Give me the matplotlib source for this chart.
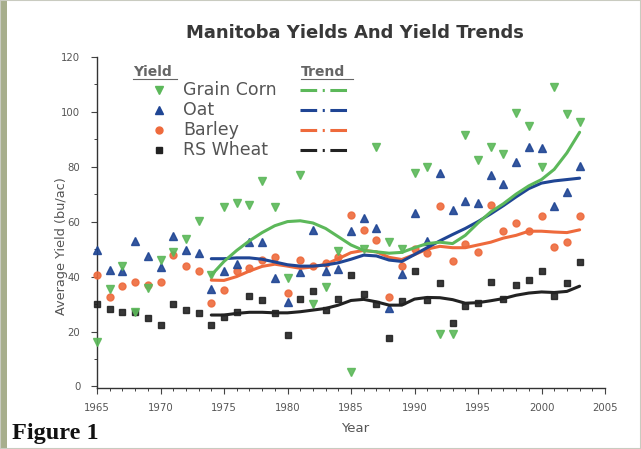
import matplotlib
matplotlib.use("Agg")
import matplotlib.pyplot as plt
from matplotlib.lines import Line2D
from matplotlib.patches import Rectangle
import numpy as np

plt.rcParams["font.family"] = ["DejaVu Sans"]
plt.rcParams["lines.scale_dashes"] = False

# ── data ──────────────────────────────────────────────────────────────────
years = np.arange(1965, 2004)
corn = [16.3, 35.5, 44.0, 27.0, 36.0, 46.0, 49.0, 53.6, 60.3, 40.5,
        65.4, 66.8, 66.2, 74.8, 65.4, 39.5, 76.9, 30.0, 36.2, 49.3,
        5.4, 50.0, 87.2, 52.7, 50.0, 77.7, 80.0, 19.0, 19.0, 91.5,
        82.4, 87.0, 84.5, 99.4, 94.7, 80.0, 108.8, 99.0, 96.3]
oat = [49.6, 42.4, 42.0, 53.0, 47.6, 43.5, 54.6, 49.6, 48.4, 35.5,
       42.1, 44.5, 52.7, 52.7, 39.3, 30.7, 41.8, 57.0, 42.0, 42.8,
       56.5, 61.2, 57.5, 28.6, 41.0, 63.2, 53.0, 77.8, 64.1, 67.5,
       66.6, 76.9, 73.5, 81.8, 87.2, 86.6, 65.8, 70.6, 80.2]
barley = [40.5, 32.7, 36.5, 38.1, 37.0, 38.1, 48.0, 43.9, 41.9, 30.2,
          35.2, 42.0, 43.0, 46.0, 47.0, 34.0, 46.0, 44.0, 45.0, 47.0,
          62.4, 56.8, 53.3, 32.5, 44.0, 50.0, 48.4, 65.8, 45.7, 52.0,
          49.0, 66.2, 56.5, 59.6, 56.5, 62.0, 50.8, 52.7, 62.0]
wheat = [30.0, 28.2, 27.2, 27.2, 25.0, 22.4, 30.0, 27.8, 26.6, 22.2,
         25.4, 27.2, 33.0, 31.5, 26.7, 18.7, 31.7, 34.7, 28.0, 31.7,
         40.5, 33.8, 30.0, 17.5, 31.0, 42.1, 31.5, 37.5, 23.0, 29.3,
         30.5, 38.1, 32.0, 36.9, 38.8, 42.1, 32.8, 37.8, 45.4]

trend_years = np.arange(1974, 2004)
corn_trend = [40.5, 45.5, 49.5, 53.0, 56.0, 58.5, 60.0, 60.3, 59.5, 57.5,
              54.5, 51.5, 49.5, 49.0, 48.5, 48.8, 50.5, 52.0, 52.5, 52.0,
              55.0, 59.5, 63.5, 66.5, 70.0, 73.0, 75.3, 79.0, 85.0, 92.5]
oat_trend = [46.5, 46.5, 46.8, 46.8, 46.3, 45.3, 44.3, 43.8, 43.8, 44.2,
             45.0, 46.3, 47.8, 47.5, 46.0, 45.5, 48.0, 50.5, 53.0, 55.3,
             57.5, 60.0, 62.8, 65.8, 69.0, 72.0, 74.0, 74.8, 75.3, 75.8]
barley_trend = [38.7, 38.6, 40.0, 42.0, 43.7, 44.5, 43.8, 43.0, 43.5, 44.5,
                46.5, 48.7, 49.5, 49.0, 47.0, 46.2, 48.0, 50.0, 51.0, 50.5,
                50.5, 51.5, 52.5, 54.0, 55.0, 56.5, 56.5, 56.2, 56.0, 57.0]
wheat_trend = [26.0, 26.0, 26.6, 27.0, 27.0, 26.8, 26.8, 27.2, 27.8, 28.4,
               29.6, 31.3, 31.7, 30.8, 29.6, 29.6, 31.8, 32.4, 32.3, 31.6,
               30.3, 30.5, 31.2, 32.0, 33.2, 34.0, 34.4, 34.2, 34.6, 36.5]

names = ["Grain Corn", "Oat", "Barley", "RS Wheat"]

GREEN = "#5cb85a"
BLUE = "#1f4594"
ORANGE = "#ee6a3c"
BLACK = "#222222"
TXT = "#555555"

# ── figure ────────────────────────────────────────────────────────────────
fig = plt.figure(figsize=(6.41, 4.49), dpi=100)
fig.patch.set_facecolor("white")
fig.patches.append(Rectangle((0, 0), 7 / 641, 1, transform=fig.transFigure,
                             facecolor="#a7ae8c", edgecolor="none", zorder=0))
fig.patches.append(Rectangle((0, 0), 1, 1, transform=fig.transFigure,
                             facecolor="none", edgecolor="#c9cbc0", lw=1.5,
                             zorder=0))

ax = fig.add_axes([97 / 641, 61 / 449, 508 / 641, 331.3 / 449])
ax.set_xlim(1965, 2005)
ax.set_ylim(-0.55, 120)

series = [
    (corn, corn_trend, GREEN, "v", 5.5),
    (oat, oat_trend, BLUE, "^", 5.5),
    (barley, barley_trend, ORANGE, "o", 5.0),
    (wheat, wheat_trend, BLACK, "s", 4.3),
]
for vals, trend, col, mk, ms in series[::-1]:
    ax.plot(years, vals, linestyle="none", marker=mk, ms=ms, color=col,
            mec=col, clip_on=False, zorder=3, alpha=0.9)
for vals, trend, col, mk, ms in series[::-1]:
    ax.plot(trend_years, trend, color=col, lw=2.2, zorder=4,
            solid_capstyle="round")

for side in ["top", "right"]:
    ax.spines[side].set_visible(False)
for side in ["left", "bottom"]:
    ax.spines[side].set_color("#333333")
    ax.spines[side].set_linewidth(1.0)

ax.set_xticks(np.arange(1965, 2006, 5))
ax.set_xticks(np.arange(1965, 2006, 1), minor=True)
ax.set_yticks(np.arange(0, 121, 20))
ax.set_yticks(np.arange(0, 121, 10), minor=True)
ax.tick_params(which="major", direction="out", length=4, width=0.8,
               color="#444444", labelsize=7.3, labelcolor=TXT)
ax.tick_params(which="minor", direction="out", length=2.2, width=0.7,
               color="#444444")
ax.tick_params(axis="x", which="major", pad=7)
ax.tick_params(axis="y", which="major", pad=8)

fig.text(355 / 641, 1 - 33 / 449, "Manitoba Yields And Yield Trends",
         ha="center", va="center", fontsize=13, fontweight="bold",
         color="#383838")
fig.text(62 / 641, 1 - 246 / 449, "Average Yield (bu/ac)", rotation=90,
         ha="center", va="center", fontsize=9.3, color=TXT)
fig.text(355 / 641, 1 - 428 / 449, "Year", ha="center", va="center",
         fontsize=9.5, color=TXT)
fig.text(12 / 641, 1 - 434 / 449, "Figure 1", ha="left", va="center",
         fontsize=17.5, fontweight="bold", family="Liberation Serif",
         color="#111111")

# ── hand-built legend (figure pixel positions) ───────────────────────────
def fx(px):
    return px / 641


def fy(py):
    return 1 - py / 449


fig.text(fx(133), fy(72), "Yield", ha="left", va="center", fontsize=10,
         fontweight="bold", color="#666666")
fig.add_artist(Line2D([fx(133), fx(177)], [fy(79), fy(79)], color="#666666",
                      lw=0.8, transform=fig.transFigure))
fig.text(fx(301), fy(72), "Trend", ha="left", va="center", fontsize=10,
         fontweight="bold", color="#666666")
fig.add_artist(Line2D([fx(301), fx(353)], [fy(79), fy(79)], color="#666666",
                      lw=0.8, transform=fig.transFigure))

rows = [90, 110, 130, 150]
for (vals, trend, col, mk, ms), name, ry in zip(series, names, rows):
    fig.add_artist(Line2D([fx(159)], [fy(ry)], marker=mk, ms=ms, color=col,
                          linestyle="none", transform=fig.transFigure))
    fig.text(fx(183), fy(ry), name, ha="left", va="center", fontsize=12.5,
             color=TXT)
    fig.add_artist(Line2D([fx(300), fx(352)], [fy(ry), fy(ry)], color=col,
                          lw=2.2, dashes=[12, 4, 1.5, 4],
                          transform=fig.transFigure))

fig.savefig("out.png", dpi=100)
